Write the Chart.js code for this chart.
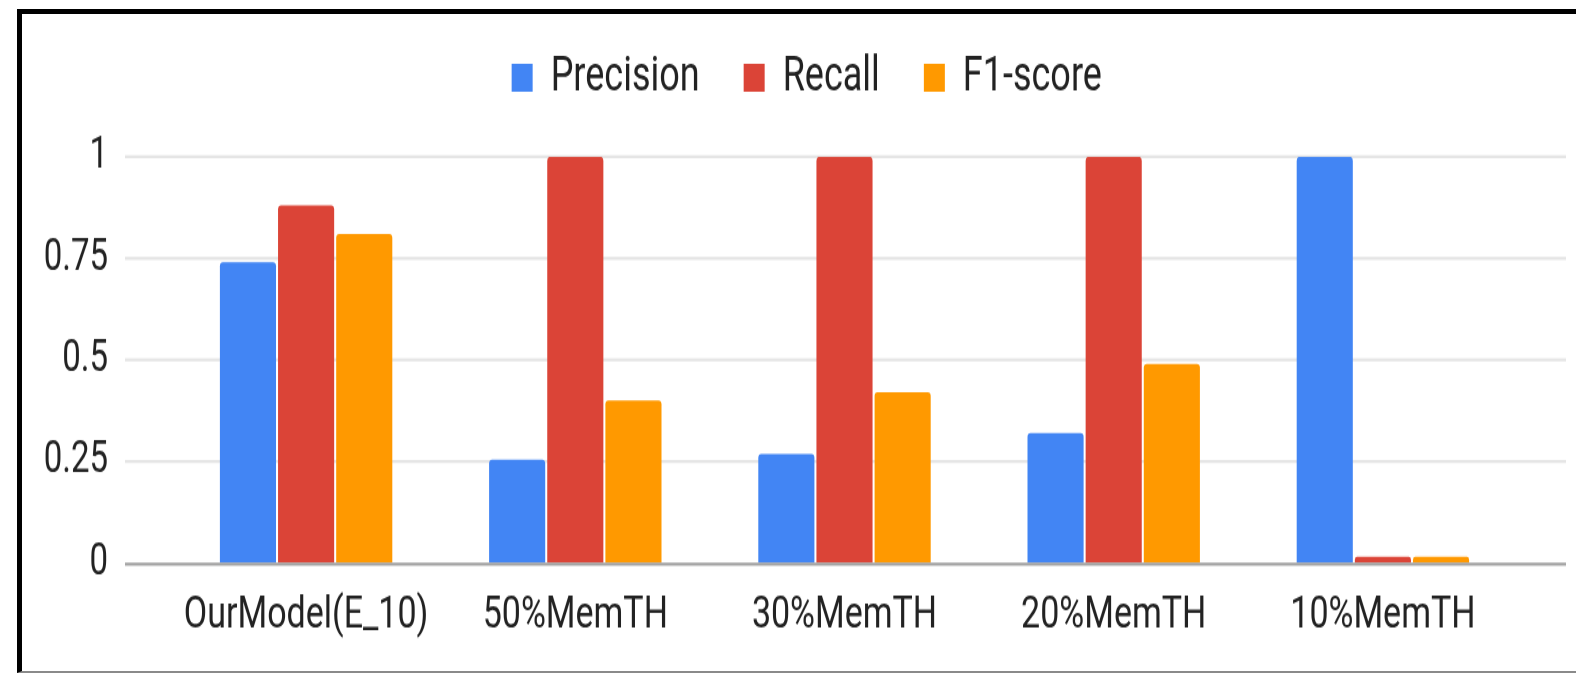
<!DOCTYPE html>
<html>
<head>
<meta charset="utf-8">
<title>Precision / Recall / F1-score</title>
<script src="https://cdn.jsdelivr.net/npm/chart.js@4.4.1/dist/chart.umd.min.js"></script>
<style>
  html, body { margin: 0; padding: 0; background: #fff; }
  #wrap { position: relative; width: 1576px; height: 674px; overflow: hidden; }
  /* the figure is drawn in a shorter box and stretched to full height */
  #stage { position: absolute; left: 0; top: 0; width: 1576px; height: 507px;
           transform: scaleY(1.32939); transform-origin: 0 0; }
  #frame {
    position: absolute; left: 17px; top: 9px; right: -20px; bottom: 1px;
    border-top: 5px solid #000; border-left: 5px solid #000; border-bottom: 2px solid #8a8a8a;
    pointer-events: none;
  }
</style>
</head>
<body>
<div id="wrap">
  <div id="stage"><canvas id="chart" width="1576" height="507"></canvas></div>
  <div id="frame"></div>
</div>
<script>
// Categories and per-series scores
const categories = ['OurModel(E_10)', '50%MemTH', '30%MemTH', '20%MemTH', '10%MemTH'];
const seriesNames = ['Precision', 'Recall', 'F1-score'];
const precision = [0.74, 0.254, 0.268, 0.32, 1];
const recall = [0.88, 1, 1, 1, 0.015];
const f1score = [0.81, 0.40, 0.42, 0.49, 0.015];
const yTicks = [0, 0.25, 0.5, 0.75, 1];
const yTickLabels = ['0', '0.25', '0.5', '0.75', '1'];

const colors = ['#4285F4', '#DB4437', '#FF9900'];
const FONT = 'Roboto';

// Horizontal gridlines run a bit past the plot area on both sides
const gridExtend = { left: 46.5, right: 48.5 };

const wideGrid = {
  id: 'wideGrid',
  beforeDatasetsDraw(chart) {
    const { ctx, chartArea, scales: { y } } = chart;
    ctx.save();
    ctx.strokeStyle = '#e5e5e5';
    ctx.lineWidth = 2.3;
    y.ticks.forEach(t => {
      if (t.value === 0) return;
      const py = y.getPixelForValue(t.value);
      ctx.beginPath();
      ctx.moveTo(chartArea.left - gridExtend.left, py);
      ctx.lineTo(chartArea.right + gridExtend.right, py);
      ctx.stroke();
    });
    ctx.restore();
  },
  afterDatasetsDraw(chart) {
    const { ctx, chartArea, scales: { y } } = chart;
    const py = y.getPixelForValue(0) + 1;
    ctx.save();
    ctx.strokeStyle = '#a0a0a0';
    ctx.lineWidth = 2.4;
    ctx.beginPath();
    ctx.moveTo(chartArea.left - gridExtend.left, py);
    ctx.lineTo(chartArea.right + gridExtend.right, py);
    ctx.stroke();
    ctx.restore();
  }
};

// Extra room between the legend row and the plot
const legendGap = {
  id: 'legendGap',
  beforeInit(chart) {
    const fit = chart.legend.fit;
    chart.legend.fit = function () {
      fit.call(this);
      this.height += 31.4;
    };
  }
};

const values = [precision, recall, f1score];

new Chart(document.getElementById('chart'), {
  type: 'bar',
  data: {
    labels: categories,
    datasets: seriesNames.map((name, i) => ({
      label: name,
      data: values[i],
      backgroundColor: colors[i],
      borderWidth: 0,
      borderRadius: 3,
      barPercentage: 0.965,
      categoryPercentage: 0.648,
      yAxisID: 'y'
    }))
  },
  options: {
    responsive: false,
    animation: false,
    devicePixelRatio: 1,
    layout: { padding: { left: 37.5, right: 0, top: -3.5, bottom: 23.6 } },
    plugins: {
      legend: {
        position: 'top',
        labels: {
          boxWidth: 21,
          boxHeight: 21,
          padding: 44,
          color: '#222',
          font: { family: FONT, size: 36 }
        }
      },
      tooltip: { enabled: false }
    },
    scales: {
      x: {
        grid: { display: false, drawTicks: false },
        border: { display: false },
        afterFit(scale) { scale.height = 60; },
        ticks: {
          color: '#222',
          padding: 19.2,
          maxRotation: 0,
          minRotation: 0,
          font: { family: FONT, size: 34 }
        }
      },
      y: {
        min: 0,
        max: 1,
        grid: { display: false, drawTicks: false },
        border: { display: false },
        afterBuildTicks(scale) { scale.ticks = yTicks.map(v => ({ value: v })); },
        afterFit(scale) { scale.width = 134; },
        ticks: {
          color: '#222',
          padding: 63.5,
          font: { family: FONT, size: 33 },
          callback(v) { return yTickLabels[yTicks.indexOf(v)]; }
        }
      },
      // empty right-hand axis that only reserves the right margin
      yRight: {
        type: 'linear',
        position: 'right',
        grid: { display: false, drawTicks: false },
        border: { display: false },
        ticks: { display: false },
        afterFit(scale) { scale.width = 58.5; }
      }
    }
  },
  plugins: [wideGrid, legendGap]
});
</script>
</body>
</html>
